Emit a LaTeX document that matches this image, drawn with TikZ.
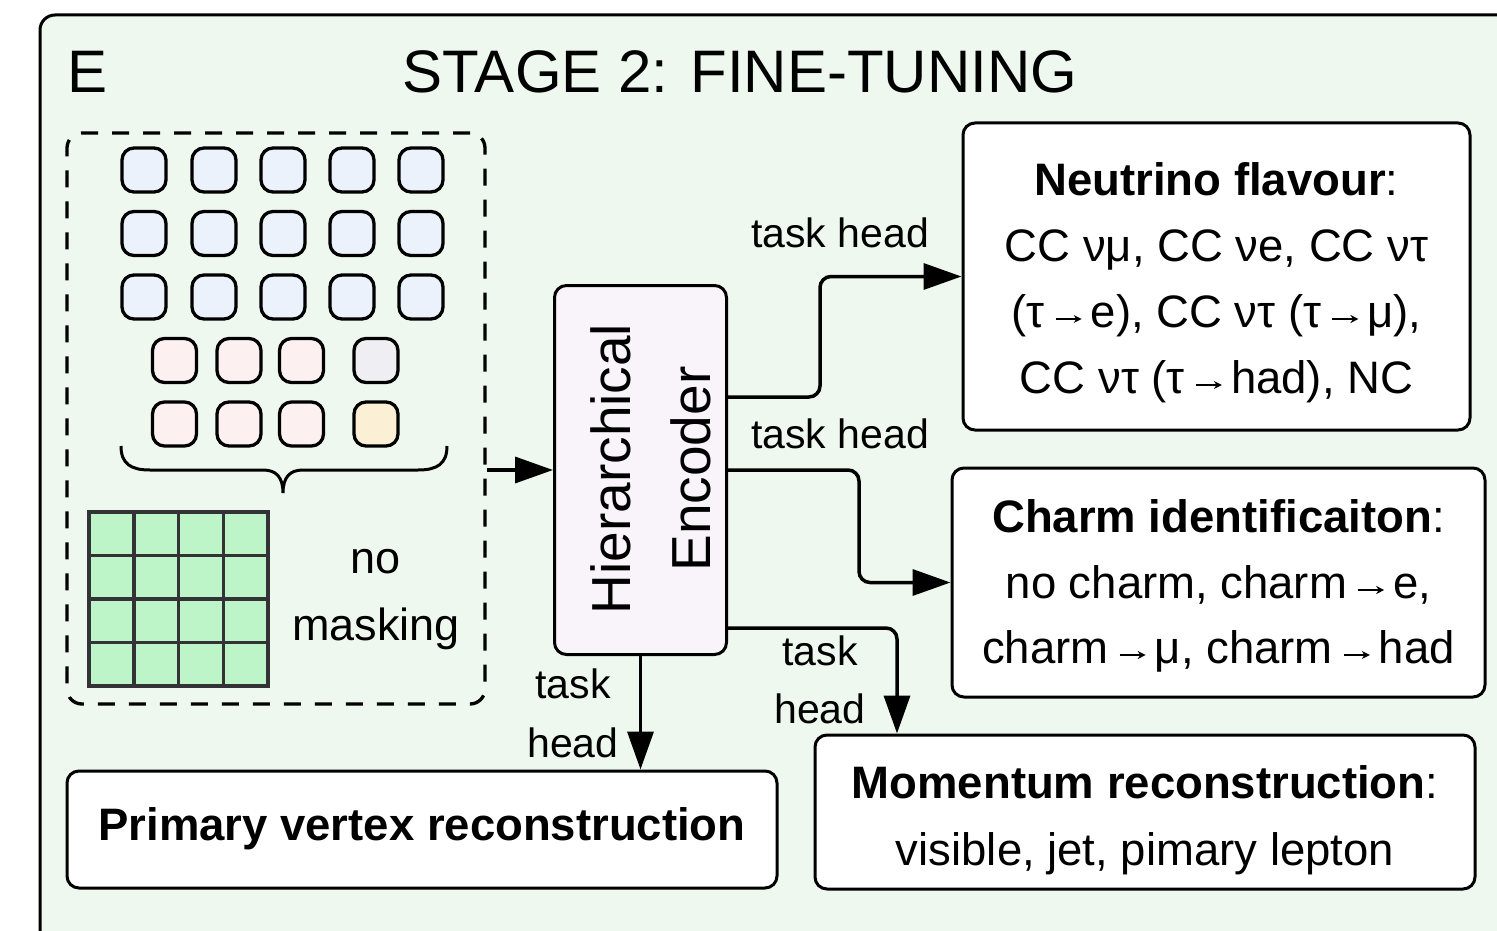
\documentclass[tikz,border=0pt]{standalone}
\usepackage{fontspec}
\setmainfont{Liberation Sans}
\usetikzlibrary{arrows.meta,calc}

\definecolor{panelbg}{RGB}{238,248,239}
\definecolor{tokblue}{RGB}{235,242,251}
\definecolor{tokpink}{RGB}{253,240,240}
\definecolor{tokgray}{RGB}{239,239,243}
\definecolor{tokbeige}{RGB}{251,240,214}
\definecolor{gridgreen}{RGB}{190,245,200}
\definecolor{gridline}{RGB}{50,50,55}
\definecolor{encfill}{RGB}{248,244,250}

% small thin arrow used inside the task descriptions
\newcommand{\sar}{\hspace{10pt}\tikz[baseline=0pt, x=1pt, y=1pt]{\draw[line width=2.2pt, -{Stealth[length=8pt,width=8pt]}] (0,8) -- (26,8);}\hspace{8pt}}

\tikzset{
  taskbox/.style={draw, line width=3pt, fill=white, rounded corners=12pt, inner sep=0pt},
  tok/.style={draw, line width=3.3pt, rounded corners=12pt, minimum width=44pt, minimum height=44pt, inner sep=0pt},
  txt/.style={anchor=base, inner sep=0pt, font=\fontsize{45.5}{50}\selectfont},
  lbl/.style={anchor=base, inner sep=0pt, font=\fontsize{41}{48}\selectfont},
  enctxt/.style={anchor=base, inner sep=0pt, rotate=90, font=\fontsize{55}{60}\selectfont},
  conn/.style={line width=3.5pt, rounded corners=11pt, -{Triangle[length=38pt,width=26pt]}},
}

\begin{document}
\begin{tikzpicture}[x=1pt,y=-1pt]
\useasboundingbox (0,0) rectangle (1497,931);
\clip (0,0) rectangle (1497,931);

% panel
\draw[line width=3pt, fill=panelbg, rounded corners=15pt] (40,15) rectangle (1560,990);
\node[anchor=base west, inner sep=0pt, font=\fontsize{60}{72}\selectfont] (panelE) at (67,93) {E};
\node[anchor=base, inner sep=0pt, font=\fontsize{60}{72}\selectfont] (title) at (740,93) {STAGE 2: FINE-TUNING};

% input group
\node[draw, dashed, dash pattern=on 17pt off 14pt, line width=3.3pt, rounded corners=15pt,
      minimum width=418pt, minimum height=571pt, inner sep=0pt] (inbox) at (276,418.5) {};

\foreach \r/\y in {1/170,2/233.5,3/297}
  \foreach \c/\x in {1/144,2/214,3/283,4/352,5/421}
    \node[tok, fill=tokblue] (b\r\c) at (\x,\y) {};
\foreach \r/\y in {4/360.5,5/424}
  \foreach \c/\x in {1/174.5,2/239,3/301.5}
    \node[tok, fill=tokpink] (p\r\c) at (\x,\y) {};
\node[tok, fill=tokgray] (p44) at (376,360.5) {};
\node[tok, fill=tokbeige] (p54) at (376,424) {};

% brace
\draw[line width=3pt] (121,446) .. controls (121,464) and (131,470) .. (150,470) -- (263,470)
  .. controls (276,470) and (283,477) .. (283,493)
  .. controls (283,477) and (290,470) .. (303,470) -- (418,470)
  .. controls (437,470) and (447,464) .. (447,446);

% pixel grid
\fill[gridgreen] (89,512) rectangle (268,686);
\foreach \i in {0,...,4} {
  \draw[gridline, line width=3.5pt] ({89+44.75*\i},510.25) -- ({89+44.75*\i},687.75);
  \draw[gridline, line width=3.5pt] (87.25,{512+43.5*\i}) -- (269.75,{512+43.5*\i});
}
\node[lbl, font=\fontsize{45}{50}\selectfont] (no) at (376,573) {no};
\node[lbl, font=\fontsize{45}{50}\selectfont] (masking) at (376,640) {masking};

% encoder
\node[draw, line width=3pt, fill=encfill, rounded corners=12pt, inner sep=0pt,
      minimum width=172pt, minimum height=369pt] (enc) at (640.5,470) {};
\node[enctxt] (encA) at (630,469) {Hierarchical};
\node[enctxt] (encB) at (710,469) {Encoder};

% task boxes
\node[taskbox, minimum width=507pt, minimum height=307pt] (nf) at (1216.5,276.5) {};
\node[txt] (nf1) at (1216.5,195) {\textbf{Neutrino flavour}:};
\node[txt] (nf2) at (1216.5,261) {CC νμ, CC νe, CC ντ};
\node[txt] (nf3) at (1216.5,327) {(τ\sar e), CC ντ (τ\sar μ),};
\node[txt] (nf4) at (1216.5,393) {CC ντ (τ\sar had), NC};

\node[taskbox, minimum width=533pt, minimum height=229pt] (ch) at (1218.5,582.5) {};
\node[txt] (ch1) at (1218.5,532) {\textbf{Charm identificaiton}:};
\node[txt] (ch2) at (1218.5,598) {no charm, charm\sar e,};
\node[txt] (ch3) at (1218.5,663) {charm\sar μ, charm\sar had};

\node[taskbox, minimum width=660pt, minimum height=154pt] (mom) at (1145,812) {};
\node[txt] (mom1) at (1145,798) {\textbf{Momentum reconstruction}:};
\node[txt] (mom2) at (1145,865) {visible, jet, pimary lepton};

\node[taskbox, minimum width=710pt, minimum height=117pt] (pv) at (422,829.5) {};
\node[txt] (pv1) at (422,840) {\textbf{Primary vertex reconstruction}};

% connectors
\draw[conn] (inbox.east |- enc.west) -- (enc.west);
\draw[conn] ([yshift=73pt]enc.east) -- ++(92,0) |- (nf.west);
\draw[conn] (enc.east) -- ++(131,0) |- (ch.west);
\draw[conn] ([yshift=-158pt]enc.east) -| ([xshift=-248pt]mom.north);
\draw[conn] (enc.south) -- (enc.south |- pv.north);

% connector labels
\node[lbl] (th1) at (840,247) {task head};
\node[lbl] (th2) at (840,448) {task head};
\node[lbl] (th3a) at (820,665) {task};
\node[lbl] (th3b) at (820,723) {head};
\node[lbl] (th4a) at (573,698) {task};
\node[lbl] (th4b) at (573,757) {head};
\end{tikzpicture}
\end{document}
